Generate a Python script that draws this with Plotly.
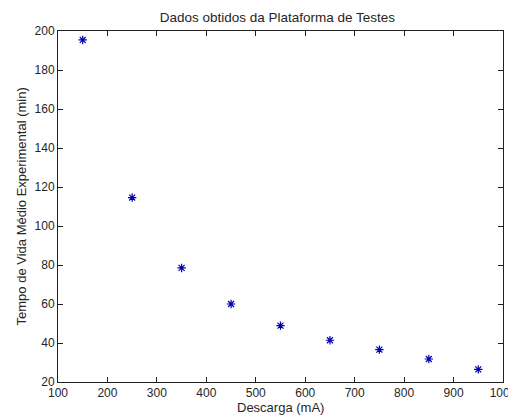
import plotly.graph_objects as go

descarga = [150, 250, 350, 450, 550, 650, 750, 850, 950]
tempo = [195.4, 114.6, 78.5, 60.0, 48.9, 41.4, 36.6, 31.8, 26.5]

x_ticks = [100, 200, 300, 400, 500, 600, 700, 800, 900, 1000]
y_ticks = [20, 40, 60, 80, 100, 120, 140, 160, 180, 200]

title_text = "Dados obtidos da Plataforma de Testes"
x_title = "Descarga (mA)"
y_title = "Tempo de Vida Médio Experimental (min)"

fam = "Liberation Sans, Arial, sans-serif"
tick_font = dict(family=fam, size=12, color="#262626")
label_font = dict(family=fam, size=13, color="#262626")
title_font = dict(family=fam, size=13.5, color="#262626")

fig = go.Figure()
fig.add_trace(go.Scatter(
    x=descarga, y=tempo, mode="markers",
    marker=dict(symbol="asterisk-open", size=7, color="#0000b0",
                line=dict(color="#0000b0", width=1.2)),
    showlegend=False,
))

axis_common = dict(
    showline=True, linecolor="#202020", linewidth=1, mirror="ticks",
    ticks="inside", ticklen=5, tickcolor="#202020", tickwidth=1,
    showgrid=False, zeroline=False, tickfont=tick_font,
    automargin=False, ticklabeloverflow="allow",
)

fig.update_layout(
    width=508, height=411,
    autosize=False,
    margin=dict(l=50, r=13, t=23, b=37, pad=0),
    paper_bgcolor="white", plot_bgcolor="white",
    font=tick_font,
    title=dict(text=title_text, xref="paper", x=0.493, xanchor="center",
               yref="container", y=0.978, yanchor="middle", font=title_font,
               automargin=False),
    xaxis=dict(range=[100, 1000], tickvals=x_ticks, **axis_common),
    yaxis=dict(range=[20, 200], tickvals=y_ticks, **axis_common),
    annotations=[
        dict(text=x_title, xref="paper", yref="paper", x=0.5, y=-0.074,
             xanchor="center", yanchor="middle", showarrow=False, font=label_font),
        dict(text=y_title, xref="paper", yref="paper", x=-0.081, y=0.5,
             xanchor="center", yanchor="middle", textangle=-90, showarrow=False,
             font=label_font),
    ],
)

fig.write_html("out.html")
